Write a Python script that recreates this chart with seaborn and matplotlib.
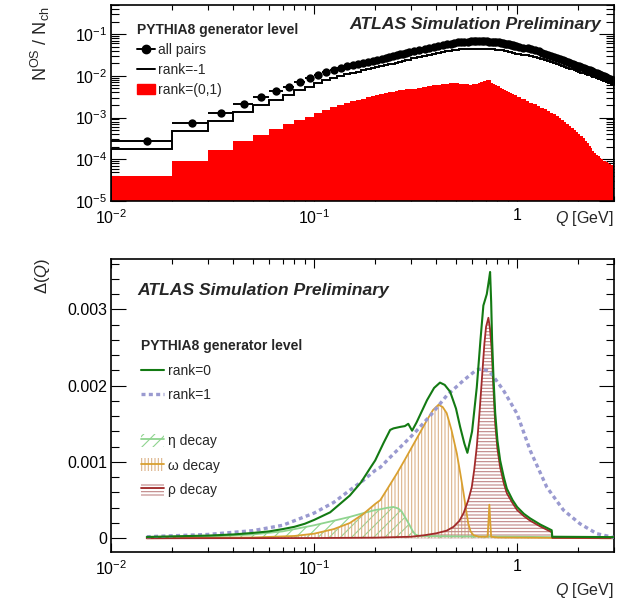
import numpy as np
import matplotlib
matplotlib.use("Agg")
import matplotlib.pyplot as plt
import seaborn as sns
from matplotlib.lines import Line2D
from matplotlib.patches import Patch
from matplotlib.ticker import LogLocator, NullFormatter, FixedLocator, MultipleLocator
from matplotlib.legend_handler import HandlerTuple

# ---------------- data: top panel (per-bin values, log10) ----------------
bin_edges = np.round(np.concatenate([np.arange(0.01, 0.3001, 0.01),
                                     np.arange(0.32, 1.0001, 0.02),
                                     np.arange(1.05, 3.0001, 0.05)]), 3)

all_pairs_log10 = [
    -3.57, -3.14, -2.89, -2.67, -2.51, -2.37, -2.26, -2.14, -2.06, -1.98,
    -1.91, -1.85, -1.81, -1.775, -1.745, -1.72, -1.69, -1.665, -1.64, -1.615,
    -1.59, -1.565, -1.545, -1.525, -1.505, -1.485, -1.465, -1.445, -1.43,
    -1.40, -1.375, -1.35, -1.33, -1.31, -1.285, -1.26, -1.24, -1.225, -1.21,
    -1.20, -1.19, -1.185, -1.18, -1.175, -1.17, -1.17, -1.17, -1.17, -1.17,
    -1.175, -1.18, -1.185, -1.19, -1.195, -1.20, -1.205, -1.215, -1.225, -1.235,
    -1.245, -1.26, -1.27, -1.28, -1.295,
    -1.30, -1.32, -1.34, -1.36, -1.385, -1.415, -1.443, -1.47, -1.497, -1.522,
    -1.547, -1.57, -1.594, -1.616, -1.638, -1.66, -1.686, -1.708, -1.73, -1.752,
    -1.773, -1.793, -1.813, -1.832, -1.851, -1.870, -1.888, -1.906, -1.924, -1.941,
    -1.958, -1.976, -1.995, -2.014, -2.032, -2.05, -2.068, -2.086, -2.103, -2.12]

rank_m1_log10 = [
    -3.76, -3.33, -3.09, -2.86, -2.70, -2.57, -2.46, -2.35, -2.26, -2.18,
    -2.11, -2.05, -2.00, -1.96, -1.93, -1.90, -1.87, -1.845, -1.82, -1.795,
    -1.77, -1.745, -1.725, -1.705, -1.685, -1.665, -1.645, -1.625, -1.61,
    -1.575, -1.55, -1.525, -1.505, -1.485, -1.46, -1.435, -1.415, -1.40, -1.385,
    -1.375, -1.365, -1.36, -1.355, -1.35, -1.345, -1.345, -1.345, -1.345, -1.345,
    -1.35, -1.355, -1.36, -1.365, -1.37, -1.375, -1.38, -1.39, -1.40, -1.41,
    -1.42, -1.435, -1.445, -1.455, -1.47,
    -1.47, -1.488, -1.506, -1.524, -1.547, -1.575, -1.601, -1.626, -1.651, -1.674,
    -1.697, -1.718, -1.74, -1.76, -1.78, -1.80, -1.824, -1.844, -1.864, -1.884,
    -1.903, -1.921, -1.939, -1.956, -1.973, -1.99, -2.006, -2.022, -2.038, -2.053,
    -2.068, -2.084, -2.101, -2.118, -2.134, -2.15, -2.166, -2.182, -2.197, -2.212]

rank01_log10 = [
    -4.40, -4.03, -3.77, -3.57, -3.41, -3.27, -3.16, -3.06, -2.98, -2.90,
    -2.81, -2.735, -2.69, -2.65, -2.61, -2.575, -2.545, -2.515, -2.485, -2.455,
    -2.43, -2.41, -2.39, -2.375, -2.36, -2.345, -2.335, -2.325, -2.315,
    -2.305, -2.285, -2.265, -2.245, -2.225, -2.21, -2.195, -2.185, -2.18, -2.18,
    -2.18, -2.185, -2.195, -2.205, -2.21, -2.20, -2.185, -2.165, -2.15, -2.13,
    -2.11, -2.10, -2.16, -2.19, -2.22, -2.25, -2.28, -2.31, -2.33, -2.36,
    -2.38, -2.40, -2.43, -2.45, -2.47,
    -2.51, -2.55, -2.60, -2.64, -2.68, -2.72, -2.76, -2.80, -2.84, -2.88,
    -2.92, -2.96, -3.01, -3.06, -3.11, -3.15, -3.20, -3.25, -3.30, -3.35,
    -3.40, -3.45, -3.50, -3.56, -3.62, -3.68, -3.73, -3.79, -3.84, -3.89,
    -3.93, -3.97, -4.00, -4.03, -4.05, -4.07, -4.09, -4.11, -4.13, -4.14]

# ---------------- data: bottom panel (Q [GeV], Delta in units of 1e-3) ----------------
rank0_q = [0.015, 0.02, 0.03, 0.04, 0.05, 0.06, 0.07, 0.08, 0.09, 0.10, 0.12, 0.15, 0.17,
           0.19, 0.20, 0.22, 0.237, 0.246, 0.266, 0.28, 0.291, 0.304, 0.32, 0.36, 0.39,
           0.417, 0.44, 0.468, 0.50, 0.524, 0.55, 0.569, 0.60, 0.633, 0.66, 0.682,
           0.709, 0.728, 0.736, 0.745, 0.753, 0.765, 0.78, 0.80, 0.825, 0.86, 0.89,
           0.95, 1.0, 1.08, 1.16, 1.3, 1.48, 1.49, 3.0]
rank0_d = [0.017, 0.025, 0.035, 0.05, 0.07, 0.09, 0.12, 0.15, 0.19, 0.24, 0.34, 0.56, 0.73,
           0.93, 1.02, 1.25, 1.42, 1.44, 1.46, 1.47, 1.50, 1.41, 1.52, 1.81, 1.97,
           2.04, 2.01, 1.92, 1.70, 1.46, 1.24, 1.12, 1.40, 1.98, 2.60, 3.05,
           3.20, 3.40, 3.49, 3.10, 2.60, 2.10, 1.64, 1.28, 1.02, 0.80, 0.65,
           0.50, 0.41, 0.32, 0.26, 0.18, 0.105, 0.02, 0.015]

rank1_q = [0.015, 0.03, 0.05, 0.07, 0.1, 0.125, 0.15, 0.175, 0.2, 0.212, 0.245, 0.31,
           0.38, 0.45, 0.545, 0.633, 0.68, 0.736, 0.856, 1.0, 1.16, 1.4, 1.69, 2.04,
           2.47, 3.0]
rank1_d = [0.02, 0.05, 0.10, 0.17, 0.33, 0.47, 0.63, 0.76, 0.89, 0.93, 1.10, 1.37,
           1.63, 1.87, 2.07, 2.21, 2.22, 2.18, 1.94, 1.63, 1.15, 0.67, 0.37, 0.19,
           0.06, 0.01]

eta_q = [0.015, 0.03, 0.05, 0.07, 0.1, 0.125, 0.15, 0.175, 0.2, 0.212, 0.23, 0.246,
         0.26, 0.27, 0.28, 0.293, 0.305, 0.315, 0.33, 0.5, 1.0, 1.48, 1.5, 3.0]
eta_d = [0.005, 0.02, 0.05, 0.09, 0.17, 0.23, 0.28, 0.33, 0.37, 0.38, 0.40, 0.41,
         0.39, 0.35, 0.28, 0.19, 0.10, 0.05, 0.03, 0.025, 0.02, 0.015, 0.005, 0.003]

omega_q = [0.015, 0.05, 0.08, 0.1, 0.125, 0.15, 0.175, 0.2, 0.212, 0.23, 0.256, 0.28,
           0.31, 0.335, 0.36, 0.385, 0.41, 0.43, 0.45, 0.475, 0.505, 0.525, 0.545,
           0.56, 0.575, 0.59, 0.61, 0.65, 0.715, 0.722, 0.73, 0.738, 0.745, 0.8, 1.5, 3.0]
omega_d = [0.0, 0.01, 0.03, 0.06, 0.12, 0.20, 0.32, 0.45, 0.50, 0.65, 0.85, 1.03,
           1.24, 1.40, 1.55, 1.68, 1.75, 1.72, 1.64, 1.42, 1.11, 0.85, 0.59,
           0.38, 0.19, 0.09, 0.04, 0.02, 0.02, 0.20, 0.44, 0.20, 0.02, 0.01, 0.005, 0.0]

rho_q = [0.015, 0.1, 0.2, 0.3, 0.35, 0.40, 0.45, 0.486, 0.52, 0.545, 0.575, 0.598,
         0.615, 0.633, 0.655, 0.67, 0.69, 0.703, 0.722, 0.735, 0.75, 0.765, 0.78,
         0.80, 0.825, 0.86, 0.89, 0.95, 1.0, 1.08, 1.16, 1.3, 1.48, 1.49, 3.0]
rho_d = [0.0, 0.003, 0.008, 0.02, 0.04, 0.065, 0.10, 0.15, 0.23, 0.33, 0.50, 0.67,
         0.90, 1.20, 1.70, 2.07, 2.55, 2.77, 2.89, 2.75, 2.46, 1.95, 1.50,
         1.17, 0.93, 0.72, 0.59, 0.46, 0.37, 0.29, 0.23, 0.155, 0.08, 0.005, 0.003]

x_tick_vals = [0.01, 0.1, 1.0]
x_tick_labels = [r"$10^{-2}$", r"$10^{-1}$", "1"]
y2_tick_vals = [0.0, 0.001, 0.002, 0.003]
y2_tick_labels = ["0", "0.001", "0.002", "0.003"]

# ---------------- style ----------------
sns.set_style("ticks")
plt.rcParams["font.family"] = ["Liberation Sans", "DejaVu Sans"]
plt.rcParams["mathtext.fontset"] = "custom"
plt.rcParams["mathtext.rm"] = "Liberation Sans"
plt.rcParams["mathtext.it"] = "Liberation Sans:italic"
plt.rcParams["mathtext.bf"] = "Liberation Sans:bold"
plt.rcParams["hatch.linewidth"] = 0.8

C_RANK0 = "#137a13"
C_RANK1 = "#9a9ad0"
C_ETA = "#8fd48f"
C_OMEGA = "#d9a030"
C_OMEGA_H = "#dcb38a"
C_RHO = "#a12a2a"
C_RHO_H = "#c08585"

fig = plt.figure(figsize=(6.34, 6.03), dpi=100)
W, H = 634, 603
ax1 = fig.add_axes([111 / W, 1 - 201 / H, 503 / W, 196 / H])
ax2 = fig.add_axes([111 / W, 1 - 552 / H, 503 / W, 293 / H])


def style_axis(ax):
    for s in ax.spines.values():
        s.set_linewidth(1.2)
        s.set_color("black")
    ax.tick_params(which="both", direction="in", top=True, right=True, width=0.8,
                   colors="black", labelsize=11.5)
    ax.tick_params(axis="y", which="major", length=10.5, pad=2.5)
    ax.tick_params(axis="y", which="minor", length=5.5)
    ax.tick_params(axis="x", which="major", length=6.5, pad=5)
    ax.tick_params(axis="x", which="minor", length=3.6)


# ---------------- top panel ----------------
centers = 0.5 * (bin_edges[:-1] + bin_edges[1:])
all_pairs = 10.0 ** np.array(all_pairs_log10)
rank_m1 = 10.0 ** np.array(rank_m1_log10)
rank01 = 10.0 ** np.array(rank01_log10)

ax1.set_xscale("log")
ax1.set_yscale("log")
ax1.stairs(rank01, bin_edges, fill=True, baseline=1e-7, color="#ff0000", zorder=1)
ax1.stairs(rank_m1, bin_edges, color="black", lw=1.4, zorder=2)
ax1.hlines(all_pairs, bin_edges[:-1], bin_edges[1:], color="black", lw=1.4, zorder=3)
sns.scatterplot(x=centers, y=all_pairs, ax=ax1, color="black", s=36, linewidth=0,
                zorder=4, legend=False)
ax1.set_xlim(0.01, 3.0)
ax1.set_ylim(1e-5, 0.5)
style_axis(ax1)
ax1.xaxis.set_major_locator(FixedLocator(x_tick_vals))
ax1.set_xticklabels(x_tick_labels)
ax1.xaxis.set_minor_locator(LogLocator(base=10, subs=np.arange(2, 10), numticks=20))
ax1.xaxis.set_minor_formatter(NullFormatter())
ax1.yaxis.set_major_locator(LogLocator(base=10, numticks=10))
ax1.yaxis.set_minor_locator(LogLocator(base=10, subs=np.arange(2, 10), numticks=20))
ax1.yaxis.set_minor_formatter(NullFormatter())
ax1.set_xlabel("")
ax1.set_ylabel("")

h_all = Line2D([], [], color="black", marker="o", markersize=6, lw=1.4)
h_m1 = Line2D([], [], color="black", lw=1.4)
h_red = Patch(facecolor="#ff0000", edgecolor="#ff0000")
leg1 = ax1.legend([h_all, h_m1, h_red], ["all pairs", "rank=-1", "rank=(0,1)"],
                  title="PYTHIA8 generator level", loc="upper left",
                  bbox_to_anchor=(0.047, 0.92), frameon=False, fontsize=10,
                  title_fontproperties={"weight": "bold", "size": 10},
                  alignment="left", handlelength=1.25, handletextpad=0.25,
                  labelspacing=0.42, borderaxespad=0.0, borderpad=0.2)
ax1.text(0.975, 0.90, "ATLAS Simulation Preliminary", transform=ax1.transAxes,
         ha="right", va="center", fontsize=12.6, fontweight="bold", style="italic")
fig.text(614 / W, 1 - 219 / H, r"$Q$ [GeV]", ha="right", va="center", fontsize=11.5)
fig.text(40 / W, 1 - 6 / H, r"N$^{\rm OS}$ / N$_{\rm ch}$", ha="center", va="top",
         rotation=90, fontsize=13)

# ---------------- bottom panel ----------------
ax2.set_xscale("log")
s = 1e-3
ax2.fill_between(np.array(eta_q), 0, np.array(eta_d) * s, facecolor="none",
                 edgecolor=C_ETA, linewidth=0, hatch="///", zorder=1)
ax2.fill_between(np.array(omega_q), 0, np.array(omega_d) * s, facecolor="none",
                 edgecolor=C_OMEGA_H, linewidth=0, hatch="|||||", zorder=1)
ax2.fill_between(np.array(rho_q), 0, np.array(rho_d) * s, facecolor="none",
                 edgecolor=C_RHO_H, linewidth=0, hatch="-----", zorder=1)
sns.lineplot(x=eta_q, y=np.array(eta_d) * s, ax=ax2, color=C_ETA, lw=1.3, zorder=2)
sns.lineplot(x=omega_q, y=np.array(omega_d) * s, ax=ax2, color=C_OMEGA, lw=1.3, zorder=2)
sns.lineplot(x=rho_q, y=np.array(rho_d) * s, ax=ax2, color=C_RHO, lw=1.3, zorder=2)
sns.lineplot(x=rank1_q, y=np.array(rank1_d) * s, ax=ax2, color=C_RANK1, lw=2.4,
             linestyle=(0, (1.2, 1.0)), zorder=3)
sns.lineplot(x=rank0_q, y=np.array(rank0_d) * s, ax=ax2, color=C_RANK0, lw=1.5, zorder=4)
ax2.set_xlim(0.01, 3.0)
ax2.set_ylim(-0.00018, 0.00366)
style_axis(ax2)
ax2.xaxis.set_major_locator(FixedLocator(x_tick_vals))
ax2.set_xticklabels(x_tick_labels)
ax2.xaxis.set_minor_locator(LogLocator(base=10, subs=np.arange(2, 10), numticks=20))
ax2.xaxis.set_minor_formatter(NullFormatter())
ax2.yaxis.set_major_locator(FixedLocator(y2_tick_vals))
ax2.set_yticklabels(y2_tick_labels)
ax2.yaxis.set_minor_locator(MultipleLocator(0.0002))
ax2.set_xlabel("")
ax2.set_ylabel("")

ax2.text(0.052, 0.893, "ATLAS Simulation Preliminary", transform=ax2.transAxes,
         ha="left", va="center", fontsize=12.6, fontweight="bold", style="italic")
fig.text(614 / W, 1 - 590 / H, r"$Q$ [GeV]", ha="right", va="center", fontsize=11.5)
fig.text(42 / W, 1 - 258 / H, r"$\Delta$($Q$)", ha="center", va="top",
         rotation=90, fontsize=12)

h_r0 = Line2D([], [], color=C_RANK0, lw=1.5)
h_r1 = Line2D([], [], color=C_RANK1, lw=2.4, linestyle=(0, (1.2, 1.0)))
leg2 = ax2.legend([h_r0, h_r1], ["rank=0", "rank=1"], title="PYTHIA8 generator level",
                  loc="upper left", bbox_to_anchor=(0.055, 0.735), frameon=False,
                  fontsize=10, title_fontproperties={"weight": "bold", "size": 10},
                  alignment="left", handlelength=1.6, handletextpad=0.3,
                  labelspacing=0.75, borderaxespad=0.0, borderpad=0.2)
ax2.add_artist(leg2)


def decay_handle(hc, lc, hatch):
    return (Patch(facecolor="none", edgecolor=hc, linewidth=0, hatch=hatch),
            Line2D([], [], color=lc, lw=1.3))


h_eta = decay_handle(C_ETA, C_ETA, "///")
h_om = decay_handle(C_OMEGA_H, C_OMEGA, "|||||")
h_rho = decay_handle(C_RHO_H, C_RHO, "-----")
leg3 = ax2.legend([h_eta, h_om, h_rho], ["\u03b7 decay", "\u03c9 decay", "\u03c1 decay"],
                  loc="upper left", bbox_to_anchor=(0.055, 0.413), frameon=False,
                  fontsize=10, handlelength=1.6, handleheight=1.1, handletextpad=0.3,
                  labelspacing=0.72, borderaxespad=0.0, borderpad=0.2,
                  handler_map={tuple: HandlerTuple(ndivide=1)})

fig.savefig("out.png", dpi=100)
